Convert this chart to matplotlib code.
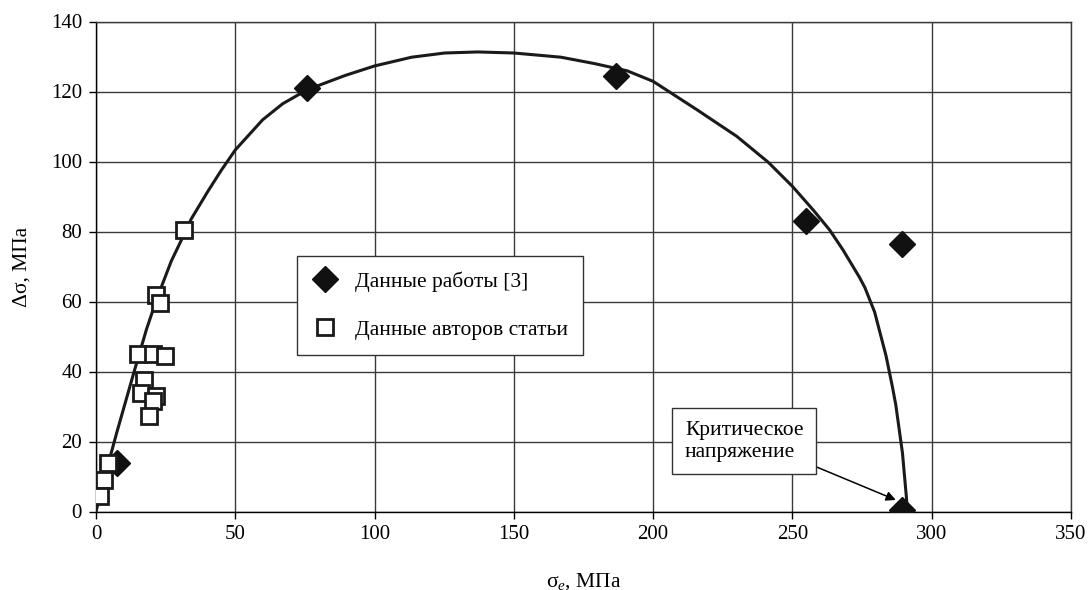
import matplotlib
matplotlib.use("Agg")
import matplotlib.pyplot as plt

# Data
ref_x = [7.5, 75.8, 186.5, 255, 289.5, 289.5]
ref_y = [14, 121, 124.3, 83, 76.3, 0.5]

auth_x = [31.5, 21.4, 22.9, 15.1, 20.5, 24.7, 17.3, 16.3, 21.7, 20.5, 19.1, 4.4, 2.9, 1.5]
auth_y = [80.3, 61.9, 59.7, 45.1, 45.1, 44.3, 37.5, 33.8, 32.9, 31.5, 27.4, 13.8, 9.1, 4.3]

curve_x = [0, 3.5, 7.4, 13.7, 18.1, 21.7, 27, 32, 34.2, 40.1, 44.9, 50, 59.8, 67,
           75.8, 89.5, 100, 113.3, 125.2, 137.1, 150, 166.9, 178.8, 190.7, 200,
           215.7, 230, 241.3, 250, 257.4, 263.3, 268.1, 274, 276, 279.5, 283.6,
           285.8, 287.1, 289.5, 291, 291.1]
curve_y = [0, 11, 22.4, 40, 52, 60.5, 71.5, 79.8, 83.6, 91.4, 97.4, 103.3, 111.9, 116.5,
           120.5, 124.6, 127.3, 129.8, 131, 131.3, 131, 129.8, 128.0, 125.9, 122.9,
           114.8, 107.2, 99.8, 92.9, 86.2, 80.5, 74.8, 67, 64, 57, 44.5,
           36, 30.5, 16.7, 3.3, 0]

x_ticks = [0, 50, 100, 150, 200, 250, 300, 350]
y_ticks = [0, 20, 40, 60, 80, 100, 120, 140]

plt.rcParams['font.family'] = ['Liberation Serif', 'DejaVu Serif']
plt.rcParams['mathtext.fontset'] = 'custom'
plt.rcParams['mathtext.rm'] = 'Liberation Serif'
plt.rcParams['mathtext.it'] = 'Liberation Serif:italic'

FS = 15.5
W, H = 1089, 590
x0, x1, ytop, ybot = 96, 1071, 21.5, 511.5

fig = plt.figure(figsize=(W / 100, H / 100), dpi=100)
ax = fig.add_axes([x0 / W, 1 - ybot / H, (x1 - x0) / W, (ybot - ytop) / H])

ax.set_xlim(0, 350)
ax.set_ylim(0, 140)
ax.set_xticks(x_ticks)
ax.set_yticks(y_ticks)
ax.grid(True, color='#3a3a3a', linewidth=1.0)
ax.set_axisbelow(True)
for s in ax.spines.values():
    s.set_color('#3a3a3a')
    s.set_linewidth(1.0)
ax.spines['left'].set_color('black')
ax.spines['bottom'].set_color('black')
ax.tick_params(direction='out', length=5, width=1.0, labelsize=15, pad=5)

ax.plot(curve_x, curve_y, color='#1a1a1a', linewidth=2.2, zorder=3,
        solid_joinstyle='round')

ax.plot(ref_x, ref_y, linestyle='none', marker='D', markersize=13.5,
        markerfacecolor='#111111', markeredgecolor='#111111', zorder=4,
        label='Данные работы [3]')
ax.plot(auth_x, auth_y, linestyle='none', marker='s', markersize=12,
        markerfacecolor='white', markeredgecolor='#1a1a1a', markeredgewidth=2.0,
        zorder=5, label='Данные авторов статьи')

leg = ax.legend(loc='upper left', bbox_to_anchor=((297 - x0) / (x1 - x0), (ybot - 256) / (ybot - ytop)),
                fontsize=FS, frameon=True, fancybox=False, edgecolor='#333333',
                framealpha=1, borderpad=0.7, labelspacing=1.3, handlelength=1.2,
                handletextpad=0.8, borderaxespad=0)
leg.get_frame().set_linewidth(1.0)

ax.annotate('Критическое\nнапряжение', xy=(287.1, 3.3), xytext=(232.7, 20.1),
            fontsize=FS, ha='center', va='center', multialignment='left',
            bbox=dict(boxstyle='square,pad=0.6', facecolor='white', edgecolor='#333333', linewidth=1.0),
            arrowprops=dict(arrowstyle='-|>', color='black', linewidth=1.1, mutation_scale=14,
                            shrinkA=0, shrinkB=0, relpos=(1.0, 0.0)),
            zorder=6)

ax.set_ylabel('Δσ, МПа', fontsize=FS, labelpad=14)
ax.set_xlabel('σ$_{\\mathit{e}}$, МПа', fontsize=FS, labelpad=19)

fig.savefig('out.png', dpi=100)
